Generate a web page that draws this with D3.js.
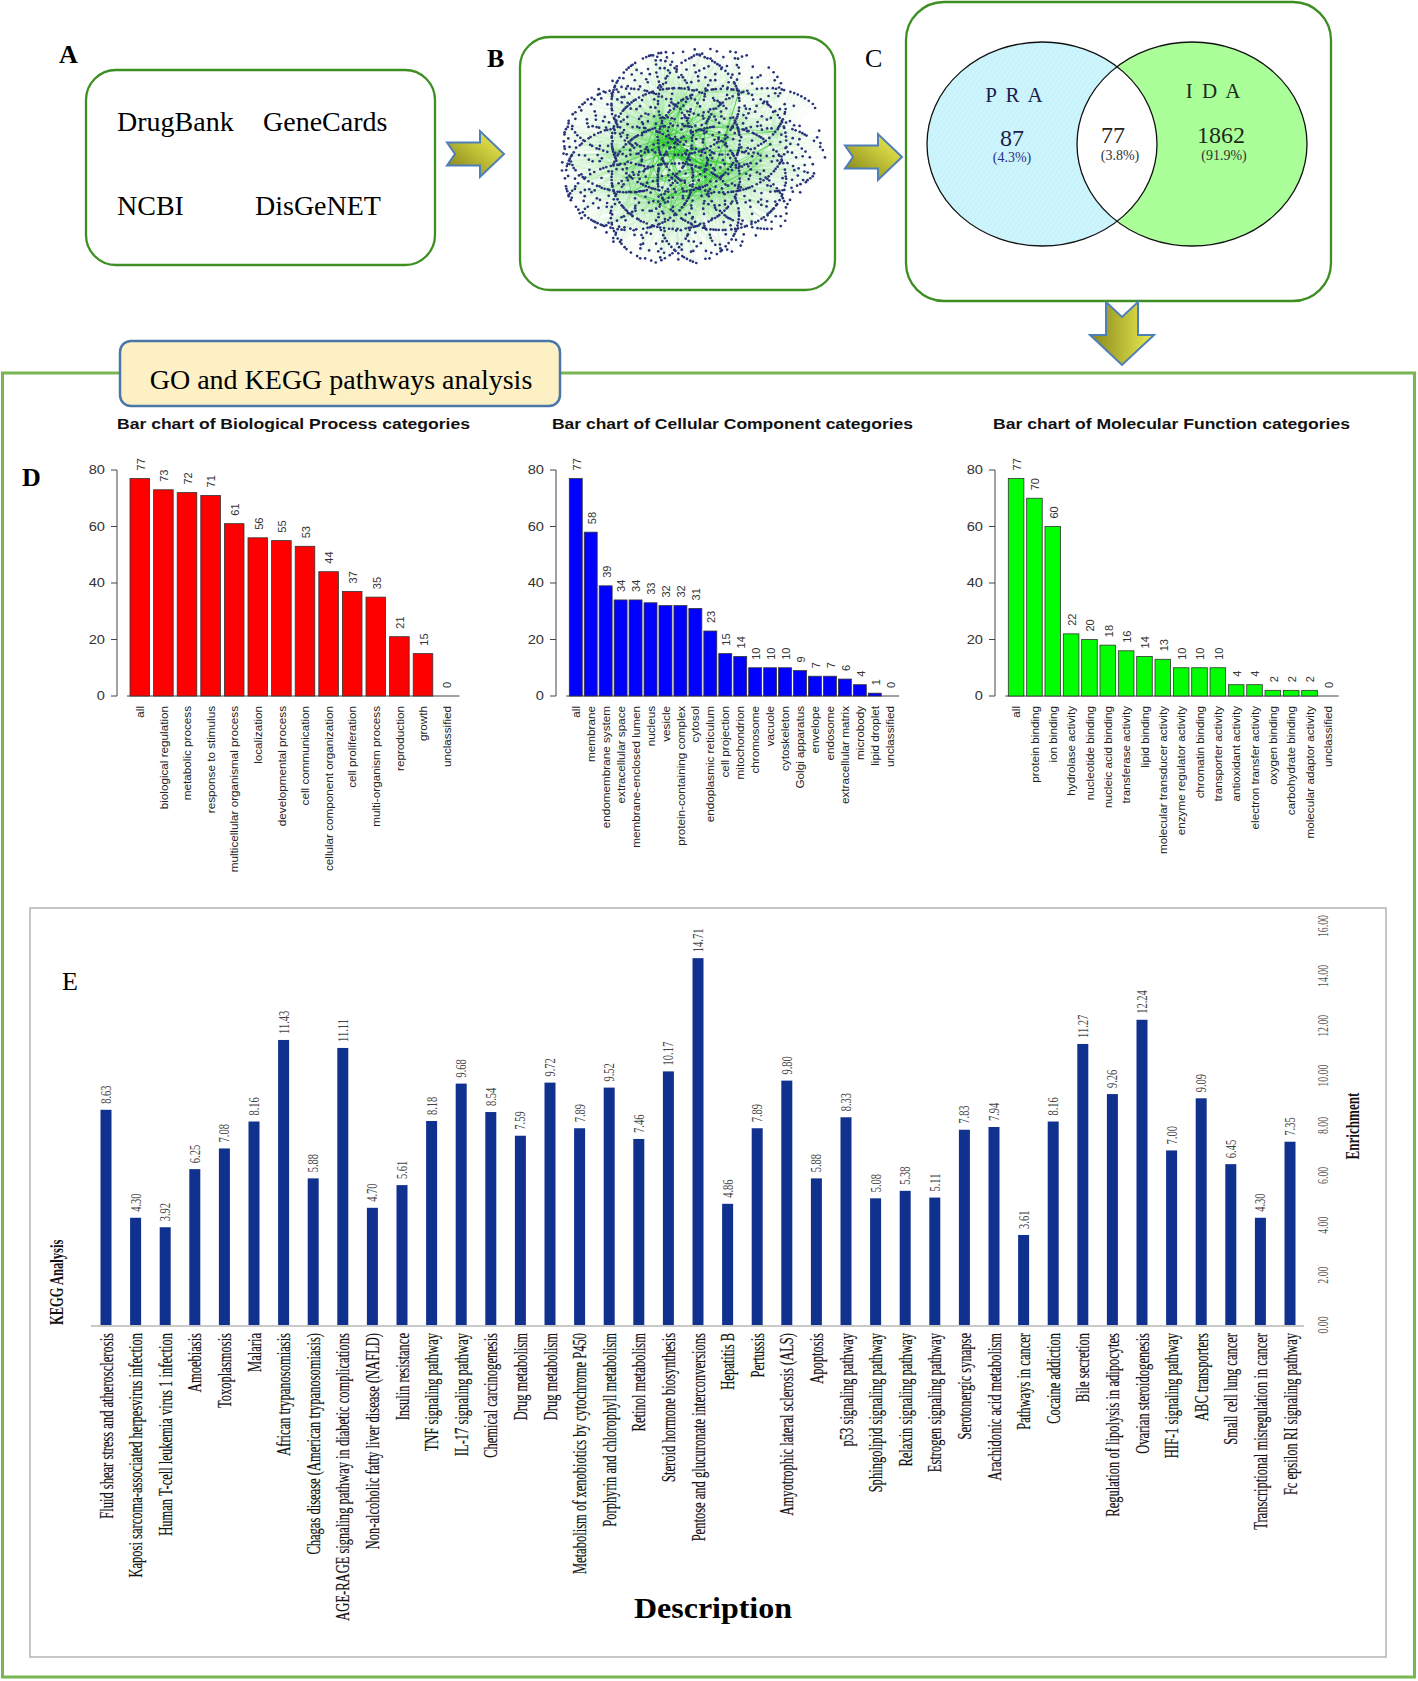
<!DOCTYPE html>
<html>
<head>
<meta charset="utf-8">
<script src="https://cdn.jsdelivr.net/npm/d3@7"></script>
<style>
  body { margin: 0; background: #fff; }
  svg { display: block; }
</style>
</head>
<body>
<svg id="fig" width="1418" height="1681"></svg>
<script>
// ---- data ----
var sources = ["DrugBank", "GeneCards", "NCBI", "DisGeNET"]
var vennNames = ["P R A", "I D A"]
var vennCounts = [87, 77, 1862]
var vennPct = ["(4.3%)", "(3.8%)", "(91.9%)"]

var bpCats = ["all", "biological regulation", "metabolic process", "response to stimulus",
  "multicellular organismal process", "localization", "developmental process", "cell communication",
  "cellular component organization", "cell proliferation", "multi-organism process", "reproduction",
  "growth", "unclassified"]
var bpVals = [77, 73, 72, 71, 61, 56, 55, 53, 44, 37, 35, 21, 15, 0]

var ccCats = ["all", "membrane", "endomembrane system", "extracellular space", "membrane-enclosed lumen",
  "nucleus", "vesicle", "protein-containing complex", "cytosol", "endoplasmic reticulum", "cell projection",
  "mitochondrion", "chromosome", "vacuole", "cytoskeleton", "Golgi apparatus", "envelope", "endosome",
  "extracellular matrix", "microbody", "lipid droplet", "unclassified"]
var ccVals = [77, 58, 39, 34, 34, 33, 32, 32, 31, 23, 15, 14, 10, 10, 10, 9, 7, 7, 6, 4, 1, 0]

var mfCats = ["all", "protein binding", "ion binding", "hydrolase activity", "nucleotide binding",
  "nucleic acid binding", "transferase activity", "lipid binding", "molecular transducer activity",
  "enzyme regulator activity", "chromatin binding", "transporter activity", "antioxidant activity",
  "electron transfer activity", "oxygen binding", "carbohydrate binding", "molecular adaptor activity",
  "unclassified"]
var mfVals = [77, 70, 60, 22, 20, 18, 16, 14, 13, 10, 10, 10, 4, 4, 2, 2, 2, 0]

var goTicks = [0, 20, 40, 60, 80]

var keggTerms = ["Fluid shear stress and atherosclerosis", "Kaposi sarcoma-associated herpesvirus infection",
  "Human T-cell leukemia virus 1 infection", "Amoebiasis", "Toxoplasmosis", "Malaria",
  "African trypanosomiasis", "Chagas disease (American trypanosomiasis)",
  "AGE-RAGE signaling pathway in diabetic complications", "Non-alcoholic fatty liver disease (NAFLD)",
  "Insulin resistance", "TNF signaling pathway", "IL-17 signaling pathway", "Chemical carcinogenesis",
  "Drug metabolism", "Drug metabolism", "Metabolism of xenobiotics by cytochrome P450",
  "Porphyrin and chlorophyll metabolism", "Retinol metabolism", "Steroid hormone biosynthesis",
  "Pentose and glucuronate interconversions", "Hepatitis B", "Pertussis",
  "Amyotrophic lateral sclerosis (ALS)", "Apoptosis", "p53 signaling pathway",
  "Sphingolipid signaling pathway", "Relaxin signaling pathway", "Estrogen signaling pathway",
  "Serotonergic synapse", "Arachidonic acid metabolism", "Pathways in cancer", "Cocaine addiction",
  "Bile secretion", "Regulation of lipolysis in adipocytes", "Ovarian steroidogenesis",
  "HIF-1 signaling pathway", "ABC transporters", "Small cell lung cancer",
  "Transcriptional misregulation in cancer", "Fc epsilon RI signaling pathway"]
var keggVals = [8.63, 4.30, 3.92, 6.25, 7.08, 8.16, 11.43, 5.88, 11.11, 4.70, 5.61, 8.18, 9.68, 8.54,
  7.59, 9.72, 7.89, 9.52, 7.46, 10.17, 14.71, 4.86, 7.89, 9.80, 5.88, 8.33, 5.08, 5.38, 5.11, 7.83,
  7.94, 3.61, 8.16, 11.27, 9.26, 12.24, 7.00, 9.09, 6.45, 4.30, 7.35]
var keggTicks = [0, 2, 4, 6, 8, 10, 12, 14, 16]

var SERIF = "'Liberation Serif', 'Times New Roman', serif"
var SANS = "'Liberation Sans', Arial, sans-serif"
var BOXGREEN = "#3d8f22"

var Svg = d3.select("#fig")
var defs = Svg.append("defs")

// gradient for the yellow arrows
var grad = defs.append("linearGradient").attr("id", "arrowGrad")
  .attr("x1", 0).attr("y1", 1).attr("x2", 1).attr("y2", 0)
grad.append("stop").attr("offset", "0").attr("stop-color", "#7a7a18")
grad.append("stop").attr("offset", "0.55").attr("stop-color", "#c2c238")
grad.append("stop").attr("offset", "1").attr("stop-color", "#f2f257")

var gradD = defs.append("linearGradient").attr("id", "arrowGradD")
  .attr("x1", 0).attr("y1", 0).attr("x2", 1).attr("y2", 0)
gradD.append("stop").attr("offset", "0").attr("stop-color", "#85851c")
gradD.append("stop").attr("offset", "1").attr("stop-color", "#eeee50")

// faint hatch for PRA
var hatch = defs.append("pattern").attr("id", "hatchL").attr("patternUnits", "userSpaceOnUse")
  .attr("width", 4).attr("height", 4).attr("patternTransform", "rotate(35)")
hatch.append("rect").attr("width", 4).attr("height", 4).attr("fill", "#cdf5fd")
hatch.append("line").attr("x1", 0).attr("y1", 0).attr("x2", 0).attr("y2", 4)
  .attr("stroke", "#bde8f0").attr("stroke-width", 1)

// ---------- panel letters ----------
function letter(t, x, y, bold) {
  Svg.append("text").attr("x", x).attr("y", y).text(t)
    .style("font-family", SERIF).style("font-size", "26px")
    .style("font-weight", bold ? "bold" : "normal").style("fill", "#000")
}
letter("A", 59, 63, true)
letter("B", 487, 67, true)
letter("C", 865, 67, false)
letter("D", 22, 486, true)

// ---------- A: sources ----------
Svg.append("rect").attr("x", 86).attr("y", 70).attr("width", 349).attr("height", 195).attr("rx", 30)
  .attr("fill", "#fff").attr("stroke", BOXGREEN).attr("stroke-width", 2.3)
var srcPos = [[117, 131], [263, 131], [117, 215], [255, 215]]
Svg.selectAll("text.src").data(sources).enter().append("text").attr("class", "src")
  .attr("x", function(d, i) { return srcPos[i][0] })
  .attr("y", function(d, i) { return srcPos[i][1] })
  .text(function(d) { return d })
  .style("font-family", SERIF).style("font-size", "28px").style("fill", "#000")

// arrows
function rightArrow(x0, yc) {
  var p = [[x0, yc - 11.5], [x0 + 33, yc - 11.5], [x0 + 33, yc - 23], [x0 + 57, yc], [x0 + 33, yc + 23],
    [x0 + 33, yc + 11.5], [x0, yc + 11.5], [x0 + 8, yc]]
  Svg.append("path").attr("d", "M" + p.join("L") + "Z").attr("fill", "url(#arrowGrad)")
    .attr("stroke", "#4f7fb8").attr("stroke-width", 2).attr("stroke-linejoin", "miter")
}
rightArrow(447, 154)
rightArrow(845, 157)

// ---------- B: network ----------
Svg.append("rect").attr("x", 520).attr("y", 37).attr("width", 315).attr("height", 253).attr("rx", 30)
  .attr("fill", "#fff").attr("stroke", BOXGREEN).attr("stroke-width", 2.3)

var hubCount = vennCounts[1], leafCount = 1450
var N = hubCount + leafCount
// hashed wiring, so that neighbouring ids are not attached to neighbouring hubs
function pick(i, k) { return (Math.imul(i * 7919 + k * 104729 + 17, 2654435761) >>> 7) % hubCount }
var nodes = d3.range(N).map(function(i) {
  var s = (i * 733) % N, r = 10 * Math.sqrt(0.5 + s), a = s * Math.PI * (3 - Math.sqrt(5))
  return { id: i, hub: i < hubCount, x: r * Math.cos(a), y: r * Math.sin(a) }
})
var links = []
for (var i = hubCount; i < N; i++) {
  links.push({ source: i, target: pick(i, 1) })
  links.push({ source: i, target: pick(i, 2) })
  links.push({ source: i, target: pick(i, 3) })
}
for (var j = 0; j < hubCount; j++) {
  links.push({ source: j, target: pick(j, 4) })
  links.push({ source: j, target: pick(j, 5) })
}
links = links.filter(function(l) { return l.source !== l.target })
var sim = d3.forceSimulation(nodes)
  .force("charge", d3.forceManyBody().strength(-6).distanceMax(90))
  .force("link", d3.forceLink(links).distance(40).strength(0.06))
  .force("x", d3.forceX(0).strength(function(d) { return d.hub ? 0.05 : 0.01 }))
  .force("y", d3.forceY(0).strength(function(d) { return d.hub ? 0.05 : 0.01 }))
  .stop()
for (var k = 0; k < 300; k++) sim.tick()

var nx = d3.scaleLinear().domain(d3.extent(nodes, function(d) { return d.x })).range([562, 825])
var ny = d3.scaleLinear().domain(d3.extent(nodes, function(d) { return d.y })).range([49, 263])
var net = Svg.append("g")
net.selectAll("line").data(links).enter().append("line")
  .attr("x1", function(d) { return nx(d.source.x) }).attr("y1", function(d) { return ny(d.source.y) })
  .attr("x2", function(d) { return nx(d.target.x) }).attr("y2", function(d) { return ny(d.target.y) })
  .attr("stroke", function(d) { return (d.source.hub && d.target.hub) ? "#1fc21f" : "#5fd85f" })
  .attr("stroke-opacity", function(d) { return (d.source.hub && d.target.hub) ? 0.7 : 0.1 })
  .attr("stroke-width", 0.7)
net.selectAll("circle").data(nodes).enter().append("circle")
  .attr("cx", function(d) { return nx(d.x) }).attr("cy", function(d) { return ny(d.y) })
  .attr("r", 1.35).attr("fill", "#28317a")

// ---------- C: Venn ----------
Svg.append("rect").attr("x", 906).attr("y", 2).attr("width", 425).attr("height", 299).attr("rx", 38)
  .attr("fill", "#fff").attr("stroke", BOXGREEN).attr("stroke-width", 2.3)
var vL = { cx: 1042, cy: 144, rx: 115, ry: 102 }, vR = { cx: 1192, cy: 144, rx: 115, ry: 102 }
defs.append("clipPath").attr("id", "clipL").append("ellipse")
  .attr("cx", vL.cx).attr("cy", vL.cy).attr("rx", vL.rx).attr("ry", vL.ry)
Svg.append("ellipse").attr("cx", vL.cx).attr("cy", vL.cy).attr("rx", vL.rx).attr("ry", vL.ry).attr("fill", "url(#hatchL)")
Svg.append("ellipse").attr("cx", vR.cx).attr("cy", vR.cy).attr("rx", vR.rx).attr("ry", vR.ry).attr("fill", "#aaff98")
Svg.append("ellipse").attr("cx", vR.cx).attr("cy", vR.cy).attr("rx", vR.rx).attr("ry", vR.ry).attr("fill", "#fff")
  .attr("clip-path", "url(#clipL)")
Svg.append("ellipse").attr("cx", vL.cx).attr("cy", vL.cy).attr("rx", vL.rx).attr("ry", vL.ry)
  .attr("fill", "none").attr("stroke", "#111").attr("stroke-width", 1.3)
Svg.append("ellipse").attr("cx", vR.cx).attr("cy", vR.cy).attr("rx", vR.rx).attr("ry", vR.ry)
  .attr("fill", "none").attr("stroke", "#111").attr("stroke-width", 1.3)

function vtext(t, x, y, size, col, spacing) {
  Svg.append("text").attr("x", x).attr("y", y).attr("text-anchor", "middle").text(t)
    .style("font-family", SERIF).style("font-size", size + "px").style("fill", col)
    .style("letter-spacing", spacing || "0px")
}
vtext(vennNames[0], 1015, 102, 21, "#1c1c4a", "2px")
vtext(vennNames[1], 1214, 98, 21, "#1c2a1c", "2px")
vtext(vennCounts[0], 1012, 146, 24, "#1c1c4a")
vtext(vennCounts[1], 1113, 143, 24, "#222")
vtext(vennCounts[2], 1221, 143, 24, "#1c2a1c")
vtext(vennPct[0], 1012, 162, 14, "#2d2d8a")
vtext(vennPct[1], 1120, 160, 14, "#333")
vtext(vennPct[2], 1224, 160, 14, "#333")

// down arrow
var dp = [[1106, 302], [1122, 317], [1138, 302], [1138, 335], [1154, 335], [1122, 365], [1090, 335], [1106, 335]]
Svg.append("path").attr("d", "M" + dp.join("L") + "Z").attr("fill", "url(#arrowGradD)")
  .attr("stroke", "#4f7fb8").attr("stroke-width", 2)

// ---------- big GO/KEGG panel ----------
Svg.append("rect").attr("x", 2.5).attr("y", 373).attr("width", 1412).attr("height", 1304)
  .attr("fill", "none").attr("stroke", "#78b650").attr("stroke-width", 3)
Svg.append("rect").attr("x", 120).attr("y", 341).attr("width", 440).attr("height", 65).attr("rx", 11)
  .attr("fill", "#fdf0c4").attr("stroke", "#4a77a8").attr("stroke-width", 2.5)
Svg.append("text").attr("x", 341).attr("y", 389).attr("text-anchor", "middle")
  .text("GO and KEGG pathways analysis")
  .style("font-family", SERIF).style("font-size", "28px").style("fill", "#000")

// ---------- D: GO bar charts ----------
var goY = d3.scaleLinear().domain([0, 80]).range([696, 470])

function goChart(cats, vals, color, title, axisX, left, step, frac, titleX0, titleX1) {
  var n = cats.length, pad = 1 - frac
  var x = d3.scaleBand().domain(d3.range(n))
    .range([left - step * pad / 2, left - step * pad / 2 + n * step])
    .paddingInner(pad).paddingOuter(pad / 2)
  var g = Svg.append("g")

  g.append("text").attr("x", titleX0).attr("y", 429).text(title)
    .attr("textLength", titleX1 - titleX0).attr("lengthAdjust", "spacingAndGlyphs")
    .style("font-family", SANS).style("font-size", "14.5px").style("font-weight", "bold").style("fill", "#111")

  // y axis
  var ax = g.append("g").attr("transform", "translate(" + axisX + ",0)")
  ax.append("line").attr("y1", goY(0)).attr("y2", goY(80)).attr("stroke", "#444").attr("stroke-width", 1)
  var tk = ax.selectAll("g.tk").data(goTicks).enter().append("g")
    .attr("transform", function(d) { return "translate(0," + goY(d) + ")" })
  tk.append("line").attr("x1", -6).attr("x2", 0).attr("stroke", "#444").attr("stroke-width", 1)
  tk.append("text").attr("transform", "translate(-12,0) scale(1.22,1)")
    .attr("text-anchor", "end").attr("dy", "0.35em").text(function(d) { return d })
    .style("font-family", SANS).style("font-size", "12px").style("fill", "#333")

  // baseline
  g.append("line").attr("x1", x(0) - 3).attr("x2", x(n - 1) + x.bandwidth() + 3)
    .attr("y1", goY(0)).attr("y2", goY(0)).attr("stroke", "#444").attr("stroke-width", 1)

  // bars
  g.selectAll("rect.bar").data(vals).enter().append("rect").attr("class", "bar")
    .attr("x", function(d, i) { return x(i) }).attr("width", x.bandwidth())
    .attr("y", function(d) { return goY(d) }).attr("height", function(d) { return goY(0) - goY(d) })
    .attr("fill", color).attr("stroke", "#333").attr("stroke-width", 0.8)

  // value labels
  g.selectAll("text.val").data(vals).enter().append("text").attr("class", "val")
    .attr("transform", function(d, i) { return "translate(" + (x(i) + x.bandwidth() / 2 + 1) + "," + (goY(d) - 8) + ") rotate(-90)" })
    .attr("dy", "0.35em").text(function(d) { return d })
    .style("font-family", SANS).style("font-size", "11px").style("fill", "#333")

  // category labels
  g.selectAll("text.cat").data(cats).enter().append("text").attr("class", "cat")
    .attr("transform", function(d, i) { return "translate(" + (x(i) + x.bandwidth() / 2) + ",706) rotate(-90)" })
    .attr("text-anchor", "end").attr("dy", "0.35em").text(function(d) { return d })
    .style("font-family", SANS).style("font-size", "11.7px").style("fill", "#222")
}

goChart(bpCats, bpVals, "#ff0000", "Bar chart of Biological Process categories", 117, 130, 23.6, 0.83, 117, 470)
goChart(ccCats, ccVals, "#0000ff", "Bar chart of Cellular Component categories", 556, 569.3, 14.95, 0.865, 552, 913)
goChart(mfCats, mfVals, "#00ff00", "Bar chart of Molecular Function categories", 995, 1008.3, 18.34, 0.85, 993, 1350)

// ---------- E: KEGG ----------
Svg.append("rect").attr("x", 30).attr("y", 908).attr("width", 1356).attr("height", 749)
  .attr("fill", "none").attr("stroke", "#b4b4b4").attr("stroke-width", 1.5)
Svg.append("text").attr("x", 62).attr("y", 990).text("E")
  .style("font-family", SERIF).style("font-size", "26px").style("fill", "#000")

var kY = d3.scaleLinear().domain([0, 16]).range([1325, 926])
var kStep = 29.6, kBw = 11
var kX = d3.scaleBand().domain(d3.range(keggTerms.length))
  .range([106 - kStep / 2, 106 - kStep / 2 + keggTerms.length * kStep])
  .paddingInner(1 - kBw / kStep).paddingOuter((1 - kBw / kStep) / 2)
var eg = Svg.append("g")

eg.append("line").attr("x1", 91).attr("x2", 1304).attr("y1", kY(0) + 1).attr("y2", kY(0) + 1)
  .attr("stroke", "#c9c9c9").attr("stroke-width", 2)

eg.selectAll("rect.kb").data(keggVals).enter().append("rect").attr("class", "kb")
  .attr("x", function(d, i) { return kX(i) }).attr("width", kX.bandwidth())
  .attr("y", function(d) { return kY(d) }).attr("height", function(d) { return kY(0) - kY(d) })
  .attr("fill", "#11318f")

eg.selectAll("text.kv").data(keggVals).enter().append("text").attr("class", "kv")
  .attr("transform", function(d, i) { return "translate(" + (kX(i) + kBw / 2) + "," + (kY(d) - 6) + ") rotate(-90) scale(0.75,1)" })
  .attr("dy", "0.35em").text(function(d) { return d3.format(".2f")(d) })
  .style("font-family", SERIF).style("font-size", "14px").style("fill", "#444")

eg.selectAll("text.kc").data(keggTerms).enter().append("text").attr("class", "kc")
  .attr("transform", function(d, i) { return "translate(" + (kX(i) + kBw / 2) + ",1333) rotate(-90) scale(0.66,1)" })
  .attr("text-anchor", "end").attr("dy", "0.35em").text(function(d) { return d })
  .style("font-family", SERIF).style("font-size", "19px").style("fill", "#111")
  .style("stroke", "#111").style("stroke-width", 0.2)

// right axis labels
eg.selectAll("text.kt").data(keggTicks).enter().append("text").attr("class", "kt")
  .attr("transform", function(d) { return "translate(1323," + kY(d) + ") rotate(-90) scale(0.7,1)" })
  .attr("text-anchor", "middle").attr("dy", "0.35em").text(function(d) { return d3.format(".2f")(d) })
  .style("font-family", SERIF).style("font-size", "14px").style("fill", "#555")

eg.append("text").attr("transform", "translate(1352,1126) rotate(-90) scale(0.69,1)")
  .attr("text-anchor", "middle").attr("dy", "0.35em").text("Enrichment")
  .style("font-family", SERIF).style("font-size", "19px").style("font-weight", "bold").style("fill", "#111")

eg.append("text").attr("transform", "translate(56,1325) rotate(-90) scale(0.66,1)")
  .attr("text-anchor", "start").attr("dy", "0.35em").text("KEGG Analysis")
  .style("font-family", SERIF).style("font-size", "19px").style("font-weight", "bold").style("fill", "#111")

eg.append("text").attr("x", 634).attr("y", 1618).text("Description")
  .attr("textLength", 158).attr("lengthAdjust", "spacingAndGlyphs")
  .style("font-family", SERIF).style("font-size", "30px").style("font-weight", "bold").style("fill", "#000")
</script>
</body>
</html>
